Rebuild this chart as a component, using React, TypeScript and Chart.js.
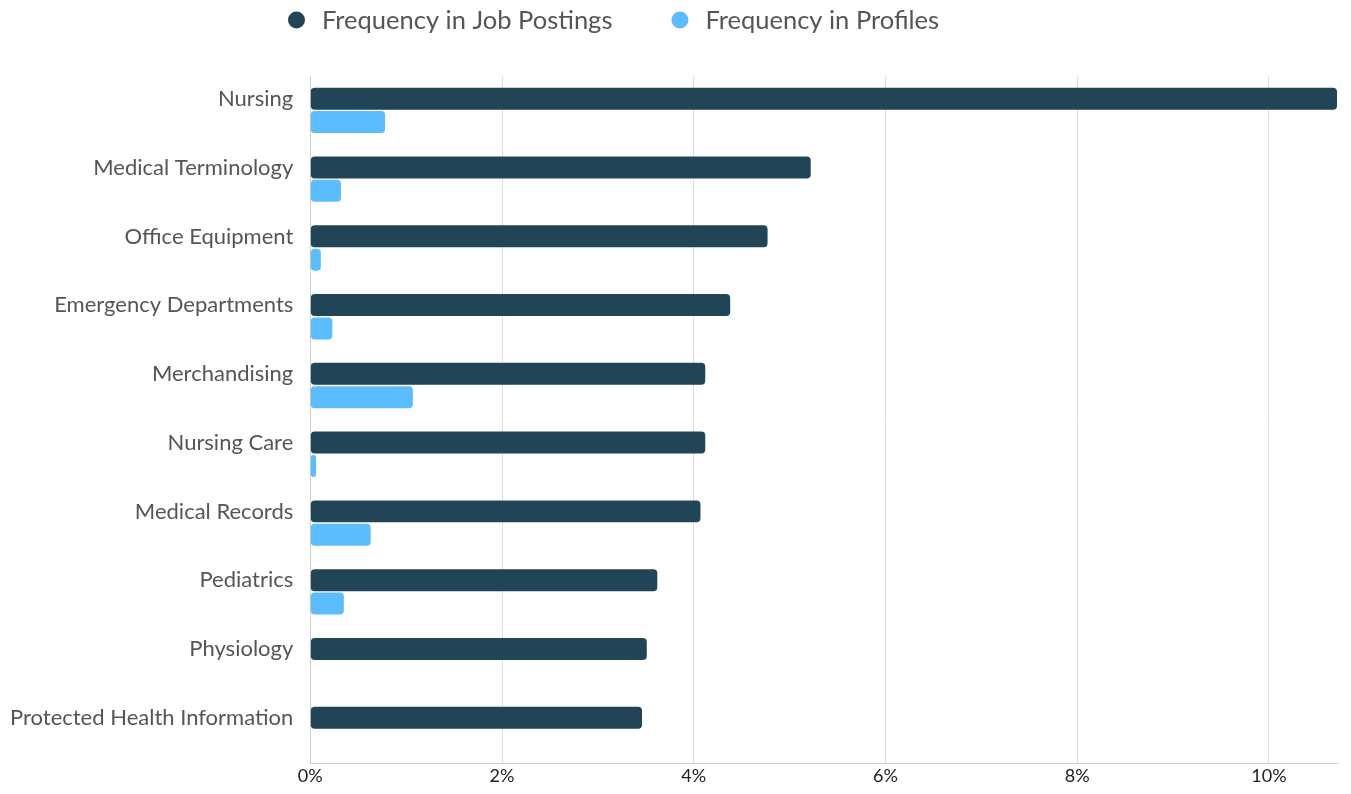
import React, { useEffect, useRef } from "react";
import { Chart, registerables } from "chart.js";

Chart.register(...registerables);

const categories = [
  "Nursing",
  "Medical Terminology",
  "Office Equipment",
  "Emergency Departments",
  "Merchandising",
  "Nursing Care",
  "Medical Records",
  "Pediatrics",
  "Physiology",
  "Protected Health Information",
];
const jobPostings = [10.71, 5.22, 4.77, 4.38, 4.12, 4.12, 4.07, 3.62, 3.51, 3.46];
const profiles = [0.78, 0.32, 0.11, 0.23, 1.07, 0.06, 0.63, 0.35, 0, 0];
const xTickValues = [0, 2, 4, 6, 8, 10];
const xMax = 10.71;
const seriesLabels = ["Frequency in Job Postings", "Frequency in Profiles"];
const seriesColors = ["#214456", "#5BBCFE"];

const FONT = "Lato, 'Noto Sans', sans-serif";

const legendPlugin = {
  id: "customLegend",
  afterDraw(chart: any) {
    const ctx = chart.ctx as CanvasRenderingContext2D;
    ctx.save();
    ctx.font = `25.5px ${FONT}`;
    ctx.textBaseline = "middle";
    const y = 20;
    const r = 8.5;
    const gapCircleText = 17;
    const gapItems = 59;
    let x = 288;
    chart.data.datasets.forEach((ds: any) => {
      ctx.fillStyle = ds.backgroundColor;
      ctx.beginPath();
      ctx.arc(x + r, y, r, 0, Math.PI * 2);
      ctx.fill();
      const tx = x + 2 * r + gapCircleText;
      ctx.fillStyle = "#555555";
      ctx.textAlign = "left";
      ctx.fillText(ds.label, tx, y + 1);
      x = tx + ctx.measureText(ds.label).width + gapItems;
    });
    ctx.restore();
  },
};

export default function App() {
  const ref = useRef<HTMLCanvasElement | null>(null);
  useEffect(() => {
    if (!ref.current) return;
    const chart = new Chart(ref.current, {
      type: "bar",
      data: {
        labels: categories,
        datasets: [
          {
            label: seriesLabels[0],
            data: jobPostings,
            backgroundColor: seriesColors[0],
            borderRadius: 4,
            borderSkipped: false,
            categoryPercentage: 0.68,
            barPercentage: 0.94,
          },
          {
            label: seriesLabels[1],
            data: profiles,
            backgroundColor: seriesColors[1],
            borderRadius: 4,
            borderSkipped: false,
            categoryPercentage: 0.68,
            barPercentage: 0.94,
          },
        ],
      },
      options: {
        indexAxis: "y",
        animation: false,
        responsive: true,
        maintainAspectRatio: false,
        layout: { padding: { top: 76, right: 14, left: -7, bottom: 0 } },
        plugins: {
          legend: { display: false },
          tooltip: { enabled: false },
        },
        scales: {
          x: {
            min: 0,
            max: xMax,
            afterBuildTicks: (scale: any) => {
              scale.ticks = xTickValues.map((v) => ({ value: v }));
            },
            afterFit: (scale: any) => {
              scale.height = 27;
            },
            ticks: {
              callback: (v: any) => `${v}%`,
              color: "#222222",
              font: { family: FONT, size: 18 },
              padding: 2,
              maxRotation: 0,
            },
            grid: { color: "#dddddd", drawTicks: false, lineWidth: 1 },
            border: { color: "#cccccc" },
          },
          y: {
            ticks: {
              color: "#555555",
              font: { family: FONT, size: 22 },
              padding: 17,
              labelOffset: -11.5,
            },
            grid: { display: false, drawTicks: false },
            border: { color: "#cccccc" },
          },
        },
      },
      plugins: [legendPlugin],
    });
    return () => chart.destroy();
  }, []);
  return (
    <div style={{ position: "absolute", left: 0, top: 0, width: 1351, height: 794 }}>
      <canvas ref={ref} />
    </div>
  );
}
